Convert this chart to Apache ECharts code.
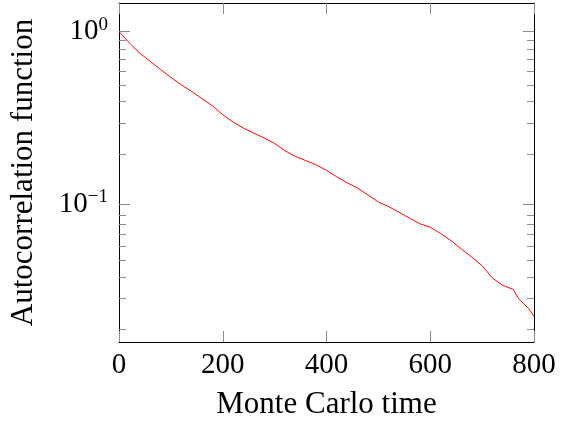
<!DOCTYPE html>
<html><head><meta charset="utf-8">
<script src="https://cdn.jsdelivr.net/npm/echarts@6/dist/echarts.min.js"></script>
<style>html,body{margin:0;padding:0;background:#fff}#c{width:567px;height:425px}</style>
</head><body><div id="c"></div>
<script>
const times = [0,20,40,60,80,100,120,140,160,180,200,220,240,260,280,300,320,340,360,380,400,420,440,460,480,500,520,540,560,580,600,620,640,660,680,700,720,740,760,770,780,790,800];
const acf = [1.0,0.86,0.75,0.673,0.604,0.543,0.492,0.45,0.409,0.372,0.33,0.299,0.276,0.258,0.242,0.225,0.204,0.189,0.179,0.169,0.157,0.144,0.133,0.124,0.113,0.103,0.0967,0.0898,0.083,0.077,0.0735,0.0676,0.0615,0.055,0.0494,0.044,0.0373,0.0338,0.0321,0.0285,0.0265,0.0248,0.0224];
const xTickLabels = [0,200,400,600,800];
const yMajorTicks = [0.1, 1];
const yMinorTicks = [0.02,0.03,0.04,0.05,0.06,0.07,0.08,0.09,0.2,0.3,0.4,0.5,0.6,0.7,0.8,0.9];

const FONT = 'Liberation Serif';
const TICK_COLOR = '#8c8c8c';
const gridRect = {left:119, right:33, top:3, bottom:78};
const yMin = 0.0159, yMax = 1.465;

function supLabel(v){
  const e = Math.round(Math.log10(v));
  const s = e < 0 ? '\u2212' + (-e) : String(e);
  return '{b|10}{s|' + s + '}';
}
function logAxis(extra){
  return Object.assign({
    type:'log', logBase:10, min:yMin, max:yMax,
    splitLine:{show:false},
    axisLine:{show:true, onZero:false, lineStyle:{color:'#000', width:1}},
    axisLabel:{show:false}
  }, extra);
}
const xBase = {type:'value', min:0, max:800, interval:200, splitLine:{show:false}};

const chart = echarts.init(document.getElementById('c'), null, {renderer:'canvas'});
chart.setOption({
  animation:false,
  grid:[Object.assign({}, gridRect), Object.assign({}, gridRect)],
  xAxis:[
    Object.assign({}, xBase, {
      gridIndex:0, position:'bottom',
      name:'Monte Carlo time', nameLocation:'middle', nameGap:47,
      nameTextStyle:{fontFamily:FONT, fontSize:31, color:'#000'},
      axisLine:{onZero:false, lineStyle:{color:'#000', width:1}},
      axisTick:{inside:true, length:11, lineStyle:{color:TICK_COLOR, width:1}},
      axisLabel:{fontFamily:FONT, fontSize:29, color:'#000', margin:9,
        customValues:xTickLabels}
    }),
    Object.assign({}, xBase, {
      gridIndex:0, position:'top',
      axisLine:{onZero:false, lineStyle:{color:'#000', width:1}},
      axisTick:{inside:true, length:11, lineStyle:{color:TICK_COLOR, width:1}},
      axisLabel:{show:false}
    }),
    Object.assign({}, xBase, {gridIndex:1, show:false})
  ],
  yAxis:[
    logAxis({
      gridIndex:0, position:'left',
      name:'Autocorrelation function', nameLocation:'middle', nameGap:80, nameRotate:90,
      nameTextStyle:{fontFamily:FONT, fontSize:31, color:'#000'},
      axisTick:{inside:true, length:11, customValues:yMajorTicks, lineStyle:{color:TICK_COLOR, width:1}},
      axisLabel:{show:true, customValues:yMajorTicks, formatter:supLabel, margin:11,
        rich:{
          b:{fontFamily:FONT, fontSize:29, color:'#000'},
          s:{fontFamily:FONT, fontSize:19, color:'#000', padding:[0,0,14,0]}
        }}
    }),
    logAxis({
      gridIndex:0, position:'right',
      axisTick:{inside:true, length:11, customValues:yMajorTicks, lineStyle:{color:TICK_COLOR, width:1}}
    }),
    logAxis({
      gridIndex:1, position:'left', axisLine:{show:false, onZero:false},
      axisTick:{inside:true, length:7, customValues:yMinorTicks, lineStyle:{color:TICK_COLOR, width:1}}
    }),
    logAxis({
      gridIndex:1, position:'right', axisLine:{show:false, onZero:false},
      axisTick:{inside:true, length:7, customValues:yMinorTicks, lineStyle:{color:TICK_COLOR, width:1}}
    })
  ],
  series:[{
    type:'line', xAxisIndex:0, yAxisIndex:0,
    data: times.map((t,i)=>[t, acf[i]]),
    symbol:'none', showSymbol:false,
    lineStyle:{color:'#ff0000', width:1}
  }]
});
</script>
</body></html>
